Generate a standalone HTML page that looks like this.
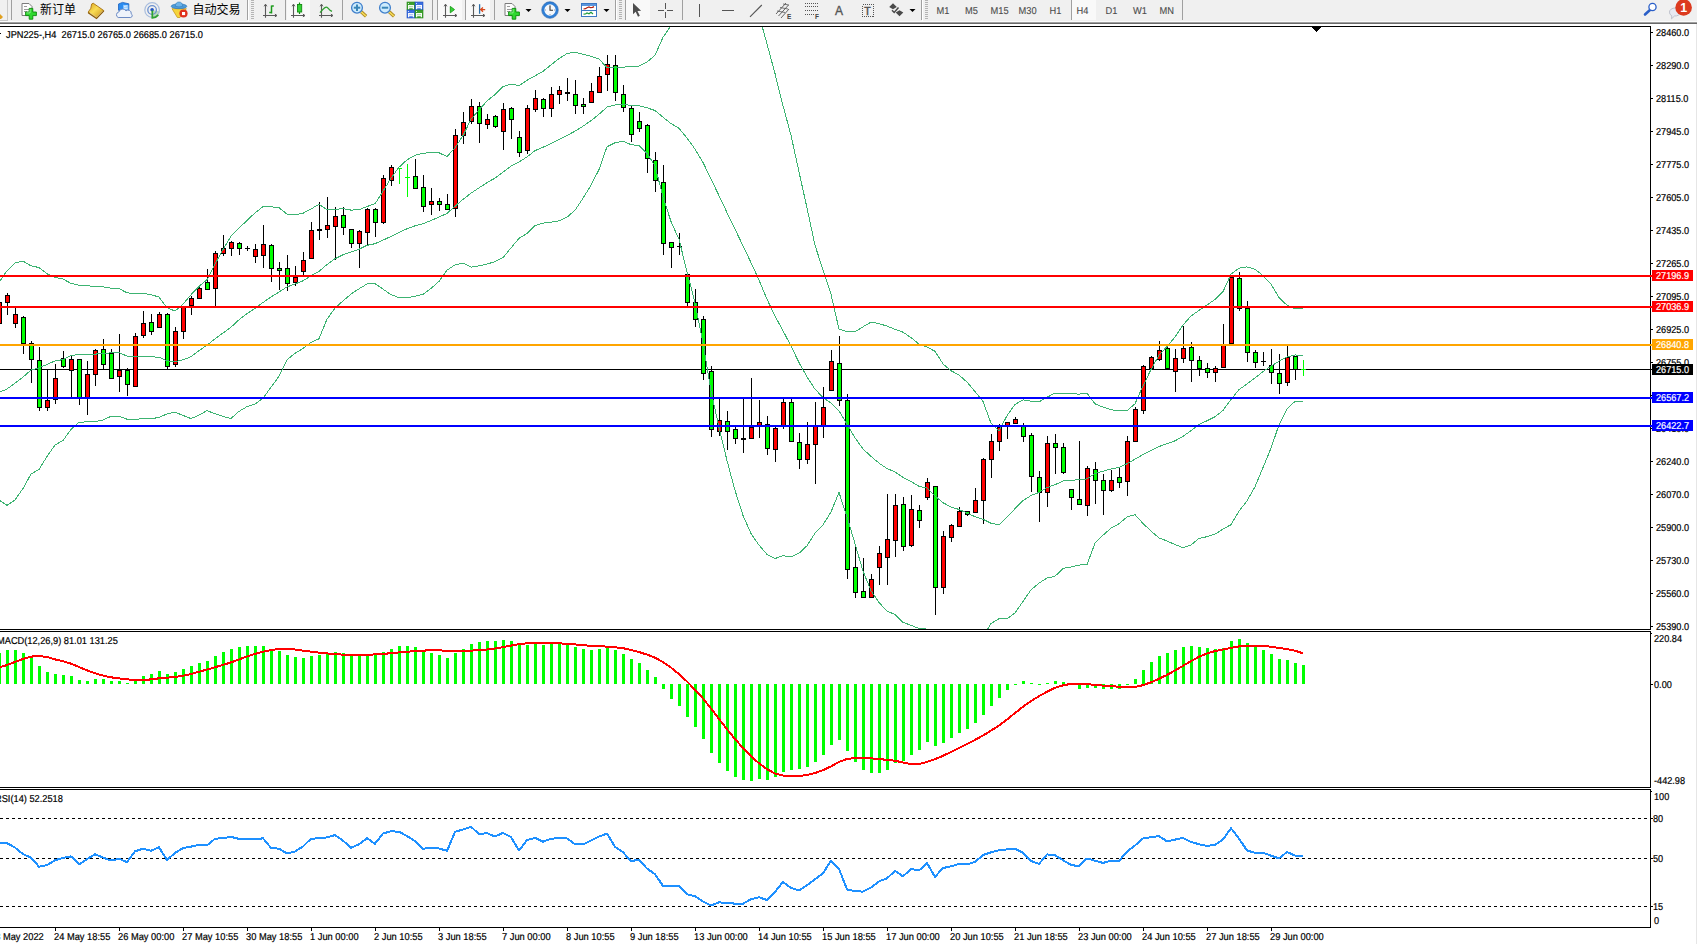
<!DOCTYPE html>
<html><head><meta charset="utf-8"><title>JPN225 H4</title>
<style>
html,body{margin:0;padding:0;background:#fff;}
body{width:1697px;height:944px;overflow:hidden;position:relative;font-family:"Liberation Sans","Noto Sans CJK SC",sans-serif;}
svg{position:absolute;left:0;top:0;}
.ax{font-size:10px;text-rendering:geometricPrecision;fill:#000;white-space:pre;stroke:#000;stroke-width:.2px;}
.axw{font-size:10px;text-rendering:geometricPrecision;fill:#fff;white-space:pre;stroke:#fff;stroke-width:.2px;}
.tl{font-size:10px;text-rendering:geometricPrecision;fill:#000;white-space:pre;stroke:#000;stroke-width:.2px;}
.cj{font-family:"Liberation Sans","Noto Sans CJK SC",sans-serif;font-size:12px;fill:#000;}
.tf{font-size:10px;text-rendering:geometricPrecision;fill:#4a4a4a;stroke:#4a4a4a;stroke-width:.1px;}
</style></head><body>
<svg width="1697" height="944" viewBox="0 0 1697 944">

<g shape-rendering="crispEdges">
<rect x="0" y="0" width="1697" height="21" fill="#f0f0f0"/>
<rect x="0" y="21" width="1697" height="1" fill="#fbfbfb"/>
<rect x="0" y="22" width="1697" height="1" fill="#a0a0a0"/>
<rect x="0" y="23" width="1697" height="1" fill="#696969"/>
<rect x="1696" y="24" width="1" height="920" fill="#e6e6e6"/>
<rect x="0" y="26" width="1651" height="1" fill="#000"/>
<rect x="1650" y="26" width="1" height="604" fill="#000"/>
<rect x="1650" y="631" width="1" height="157" fill="#000"/>
<rect x="1650" y="789" width="1" height="139" fill="#000"/>
<rect x="0" y="629" width="1651" height="1" fill="#000"/>
<rect x="0" y="631" width="1651" height="1" fill="#000"/>
<rect x="0" y="787" width="1651" height="1" fill="#000"/>
<rect x="0" y="789" width="1651" height="1" fill="#000"/>
<rect x="0" y="927" width="1651" height="1" fill="#000"/>
</g>
<g shape-rendering="crispEdges">
<rect x="0" y="369" width="1652" height="1" fill="#000"/>
<rect x="-1" y="296" width="1" height="30" fill="#000"/>
<rect x="-3" y="302" width="5" height="22" fill="#000"/>
<rect x="-2" y="303" width="3" height="20" fill="#ff0000"/>
<rect x="7" y="293" width="1" height="22" fill="#000"/>
<rect x="5" y="295" width="5" height="8" fill="#000"/>
<rect x="6" y="296" width="3" height="6" fill="#ff0000"/>
<rect x="15" y="306" width="1" height="22" fill="#000"/>
<rect x="13" y="314" width="5" height="10" fill="#000"/>
<rect x="14" y="315" width="3" height="8" fill="#ff0000"/>
<rect x="23" y="316" width="1" height="38" fill="#000"/>
<rect x="21" y="317" width="5" height="27" fill="#000"/>
<rect x="22" y="318" width="3" height="25" fill="#00ff00"/>
<rect x="31" y="341" width="1" height="42" fill="#000"/>
<rect x="29" y="343" width="5" height="17" fill="#000"/>
<rect x="30" y="344" width="3" height="15" fill="#00ff00"/>
<rect x="39" y="347" width="1" height="64" fill="#000"/>
<rect x="37" y="360" width="5" height="48" fill="#000"/>
<rect x="38" y="361" width="3" height="46" fill="#00ff00"/>
<rect x="47" y="370" width="1" height="41" fill="#000"/>
<rect x="45" y="400" width="5" height="8" fill="#000"/>
<rect x="46" y="401" width="3" height="6" fill="#ff0000"/>
<rect x="55" y="364" width="1" height="40" fill="#000"/>
<rect x="53" y="378" width="5" height="22" fill="#000"/>
<rect x="54" y="379" width="3" height="20" fill="#ff0000"/>
<rect x="63" y="351" width="1" height="17" fill="#000"/>
<rect x="61" y="358" width="5" height="9" fill="#000"/>
<rect x="62" y="359" width="3" height="7" fill="#00ff00"/>
<rect x="71" y="356" width="1" height="41" fill="#000"/>
<rect x="69" y="359" width="5" height="12" fill="#000"/>
<rect x="70" y="360" width="3" height="10" fill="#ff0000"/>
<rect x="79" y="359" width="1" height="46" fill="#000"/>
<rect x="77" y="359" width="5" height="39" fill="#000"/>
<rect x="78" y="360" width="3" height="37" fill="#00ff00"/>
<rect x="87" y="361" width="1" height="54" fill="#000"/>
<rect x="85" y="374" width="5" height="24" fill="#000"/>
<rect x="86" y="375" width="3" height="22" fill="#ff0000"/>
<rect x="95" y="349" width="1" height="37" fill="#000"/>
<rect x="93" y="350" width="5" height="25" fill="#000"/>
<rect x="94" y="351" width="3" height="23" fill="#ff0000"/>
<rect x="103" y="339" width="1" height="31" fill="#000"/>
<rect x="101" y="349" width="5" height="16" fill="#000"/>
<rect x="102" y="350" width="3" height="14" fill="#00ff00"/>
<rect x="111" y="349" width="1" height="29" fill="#000"/>
<rect x="109" y="353" width="5" height="26" fill="#000"/>
<rect x="110" y="354" width="3" height="24" fill="#00ff00"/>
<rect x="119" y="334" width="1" height="58" fill="#000"/>
<rect x="117" y="370" width="5" height="7" fill="#000"/>
<rect x="118" y="371" width="3" height="5" fill="#ff0000"/>
<rect x="127" y="368" width="1" height="28" fill="#000"/>
<rect x="125" y="370" width="5" height="15" fill="#000"/>
<rect x="126" y="371" width="3" height="13" fill="#00ff00"/>
<rect x="135" y="333" width="1" height="53" fill="#000"/>
<rect x="133" y="336" width="5" height="51" fill="#000"/>
<rect x="134" y="337" width="3" height="49" fill="#ff0000"/>
<rect x="143" y="311" width="1" height="27" fill="#000"/>
<rect x="141" y="323" width="5" height="13" fill="#000"/>
<rect x="142" y="324" width="3" height="11" fill="#ff0000"/>
<rect x="151" y="314" width="1" height="21" fill="#000"/>
<rect x="149" y="322" width="5" height="10" fill="#000"/>
<rect x="150" y="323" width="3" height="8" fill="#00ff00"/>
<rect x="159" y="312" width="1" height="15" fill="#000"/>
<rect x="157" y="314" width="5" height="14" fill="#000"/>
<rect x="158" y="315" width="3" height="12" fill="#ff0000"/>
<rect x="167" y="313" width="1" height="56" fill="#000"/>
<rect x="165" y="314" width="5" height="53" fill="#000"/>
<rect x="166" y="315" width="3" height="51" fill="#00ff00"/>
<rect x="175" y="327" width="1" height="40" fill="#000"/>
<rect x="173" y="331" width="5" height="34" fill="#000"/>
<rect x="174" y="332" width="3" height="32" fill="#ff0000"/>
<rect x="183" y="306" width="1" height="33" fill="#000"/>
<rect x="181" y="306" width="5" height="26" fill="#000"/>
<rect x="182" y="307" width="3" height="24" fill="#ff0000"/>
<rect x="191" y="296" width="1" height="19" fill="#000"/>
<rect x="189" y="298" width="5" height="8" fill="#000"/>
<rect x="190" y="299" width="3" height="6" fill="#ff0000"/>
<rect x="199" y="286" width="1" height="12" fill="#000"/>
<rect x="197" y="288" width="5" height="11" fill="#000"/>
<rect x="198" y="289" width="3" height="9" fill="#ff0000"/>
<rect x="207" y="269" width="1" height="21" fill="#000"/>
<rect x="205" y="282" width="5" height="8" fill="#000"/>
<rect x="206" y="283" width="3" height="6" fill="#00ff00"/>
<rect x="215" y="251" width="1" height="55" fill="#000"/>
<rect x="213" y="253" width="5" height="36" fill="#000"/>
<rect x="214" y="254" width="3" height="34" fill="#ff0000"/>
<rect x="223" y="235" width="1" height="21" fill="#000"/>
<rect x="221" y="248" width="5" height="6" fill="#000"/>
<rect x="222" y="249" width="3" height="4" fill="#ff0000"/>
<rect x="231" y="241" width="1" height="15" fill="#000"/>
<rect x="229" y="242" width="5" height="7" fill="#000"/>
<rect x="230" y="243" width="3" height="5" fill="#ff0000"/>
<rect x="239" y="242" width="1" height="13" fill="#000"/>
<rect x="237" y="243" width="5" height="6" fill="#000"/>
<rect x="238" y="244" width="3" height="4" fill="#00ff00"/>
<rect x="247" y="246" width="1" height="5" fill="#000"/>
<rect x="245" y="248" width="5" height="1" fill="#000"/>
<rect x="255" y="244" width="1" height="19" fill="#000"/>
<rect x="253" y="249" width="5" height="8" fill="#000"/>
<rect x="254" y="250" width="3" height="6" fill="#ff0000"/>
<rect x="263" y="225" width="1" height="43" fill="#000"/>
<rect x="261" y="244" width="5" height="12" fill="#000"/>
<rect x="262" y="245" width="3" height="10" fill="#ff0000"/>
<rect x="271" y="244" width="1" height="38" fill="#000"/>
<rect x="269" y="245" width="5" height="24" fill="#000"/>
<rect x="270" y="246" width="3" height="22" fill="#00ff00"/>
<rect x="279" y="262" width="1" height="28" fill="#000"/>
<rect x="277" y="268" width="5" height="3" fill="#000"/>
<rect x="278" y="269" width="3" height="1" fill="#00ff00"/>
<rect x="287" y="255" width="1" height="36" fill="#000"/>
<rect x="285" y="268" width="5" height="16" fill="#000"/>
<rect x="286" y="269" width="3" height="14" fill="#00ff00"/>
<rect x="295" y="266" width="1" height="20" fill="#000"/>
<rect x="293" y="277" width="5" height="6" fill="#000"/>
<rect x="294" y="278" width="3" height="4" fill="#ff0000"/>
<rect x="303" y="252" width="1" height="23" fill="#000"/>
<rect x="301" y="260" width="5" height="12" fill="#000"/>
<rect x="302" y="261" width="3" height="10" fill="#ff0000"/>
<rect x="311" y="222" width="1" height="36" fill="#000"/>
<rect x="309" y="230" width="5" height="29" fill="#000"/>
<rect x="310" y="231" width="3" height="27" fill="#ff0000"/>
<rect x="319" y="202" width="1" height="38" fill="#000"/>
<rect x="317" y="229" width="5" height="2" fill="#000"/>
<rect x="327" y="197" width="1" height="41" fill="#000"/>
<rect x="325" y="225" width="5" height="5" fill="#000"/>
<rect x="326" y="226" width="3" height="3" fill="#ff0000"/>
<rect x="335" y="207" width="1" height="53" fill="#000"/>
<rect x="333" y="216" width="5" height="11" fill="#000"/>
<rect x="334" y="217" width="3" height="9" fill="#ff0000"/>
<rect x="343" y="207" width="1" height="28" fill="#000"/>
<rect x="341" y="215" width="5" height="13" fill="#000"/>
<rect x="342" y="216" width="3" height="11" fill="#00ff00"/>
<rect x="351" y="229" width="1" height="19" fill="#000"/>
<rect x="349" y="229" width="5" height="15" fill="#000"/>
<rect x="350" y="230" width="3" height="13" fill="#00ff00"/>
<rect x="359" y="230" width="1" height="38" fill="#000"/>
<rect x="357" y="231" width="5" height="13" fill="#000"/>
<rect x="358" y="232" width="3" height="11" fill="#ff0000"/>
<rect x="367" y="208" width="1" height="37" fill="#000"/>
<rect x="365" y="209" width="5" height="24" fill="#000"/>
<rect x="366" y="210" width="3" height="22" fill="#ff0000"/>
<rect x="375" y="208" width="1" height="29" fill="#000"/>
<rect x="373" y="209" width="5" height="14" fill="#000"/>
<rect x="374" y="210" width="3" height="12" fill="#00ff00"/>
<rect x="383" y="175" width="1" height="49" fill="#000"/>
<rect x="381" y="178" width="5" height="45" fill="#000"/>
<rect x="382" y="179" width="3" height="43" fill="#ff0000"/>
<rect x="391" y="165" width="1" height="21" fill="#000"/>
<rect x="389" y="167" width="5" height="14" fill="#000"/>
<rect x="390" y="168" width="3" height="12" fill="#ff0000"/>
<rect x="399" y="168" width="1" height="16" fill="#00ff00"/>
<rect x="397" y="168" width="5" height="1" fill="#00ff00"/>
<rect x="407" y="164" width="1" height="33" fill="#00ff00"/>
<rect x="405" y="177" width="5" height="1" fill="#00ff00"/>
<rect x="415" y="159" width="1" height="30" fill="#000"/>
<rect x="413" y="176" width="5" height="13" fill="#000"/>
<rect x="414" y="177" width="3" height="11" fill="#00ff00"/>
<rect x="423" y="175" width="1" height="37" fill="#000"/>
<rect x="421" y="187" width="5" height="20" fill="#000"/>
<rect x="422" y="188" width="3" height="18" fill="#00ff00"/>
<rect x="431" y="188" width="1" height="27" fill="#000"/>
<rect x="429" y="201" width="5" height="4" fill="#000"/>
<rect x="430" y="202" width="3" height="2" fill="#ff0000"/>
<rect x="439" y="198" width="1" height="13" fill="#000"/>
<rect x="437" y="201" width="5" height="4" fill="#000"/>
<rect x="438" y="202" width="3" height="2" fill="#00ff00"/>
<rect x="447" y="194" width="1" height="15" fill="#000"/>
<rect x="445" y="204" width="5" height="6" fill="#000"/>
<rect x="446" y="205" width="3" height="4" fill="#00ff00"/>
<rect x="455" y="129" width="1" height="88" fill="#000"/>
<rect x="453" y="135" width="5" height="74" fill="#000"/>
<rect x="454" y="136" width="3" height="72" fill="#ff0000"/>
<rect x="463" y="112" width="1" height="32" fill="#000"/>
<rect x="461" y="122" width="5" height="14" fill="#000"/>
<rect x="462" y="123" width="3" height="12" fill="#ff0000"/>
<rect x="471" y="99" width="1" height="25" fill="#000"/>
<rect x="469" y="106" width="5" height="16" fill="#000"/>
<rect x="470" y="107" width="3" height="14" fill="#ff0000"/>
<rect x="479" y="102" width="1" height="41" fill="#000"/>
<rect x="477" y="106" width="5" height="18" fill="#000"/>
<rect x="478" y="107" width="3" height="16" fill="#00ff00"/>
<rect x="487" y="114" width="1" height="15" fill="#000"/>
<rect x="485" y="119" width="5" height="6" fill="#000"/>
<rect x="486" y="120" width="3" height="4" fill="#ff0000"/>
<rect x="495" y="115" width="1" height="13" fill="#000"/>
<rect x="493" y="116" width="5" height="11" fill="#000"/>
<rect x="494" y="117" width="3" height="9" fill="#00ff00"/>
<rect x="503" y="103" width="1" height="47" fill="#000"/>
<rect x="501" y="109" width="5" height="23" fill="#000"/>
<rect x="502" y="110" width="3" height="21" fill="#ff0000"/>
<rect x="511" y="107" width="1" height="32" fill="#000"/>
<rect x="509" y="108" width="5" height="12" fill="#000"/>
<rect x="510" y="109" width="3" height="10" fill="#00ff00"/>
<rect x="519" y="131" width="1" height="26" fill="#000"/>
<rect x="517" y="137" width="5" height="16" fill="#000"/>
<rect x="518" y="138" width="3" height="14" fill="#00ff00"/>
<rect x="527" y="105" width="1" height="49" fill="#000"/>
<rect x="525" y="108" width="5" height="43" fill="#000"/>
<rect x="526" y="109" width="3" height="41" fill="#ff0000"/>
<rect x="535" y="90" width="1" height="22" fill="#000"/>
<rect x="533" y="98" width="5" height="12" fill="#000"/>
<rect x="534" y="99" width="3" height="10" fill="#ff0000"/>
<rect x="543" y="98" width="1" height="19" fill="#000"/>
<rect x="541" y="99" width="5" height="10" fill="#000"/>
<rect x="542" y="100" width="3" height="8" fill="#00ff00"/>
<rect x="551" y="87" width="1" height="30" fill="#000"/>
<rect x="549" y="94" width="5" height="15" fill="#000"/>
<rect x="550" y="95" width="3" height="13" fill="#ff0000"/>
<rect x="559" y="86" width="1" height="18" fill="#000"/>
<rect x="557" y="90" width="5" height="5" fill="#000"/>
<rect x="558" y="91" width="3" height="3" fill="#ff0000"/>
<rect x="567" y="78" width="1" height="23" fill="#000"/>
<rect x="565" y="92" width="5" height="2" fill="#000"/>
<rect x="575" y="80" width="1" height="34" fill="#000"/>
<rect x="573" y="94" width="5" height="12" fill="#000"/>
<rect x="574" y="95" width="3" height="10" fill="#00ff00"/>
<rect x="583" y="98" width="1" height="16" fill="#000"/>
<rect x="581" y="104" width="5" height="3" fill="#000"/>
<rect x="582" y="105" width="3" height="1" fill="#00ff00"/>
<rect x="591" y="83" width="1" height="20" fill="#000"/>
<rect x="589" y="91" width="5" height="12" fill="#000"/>
<rect x="590" y="92" width="3" height="10" fill="#ff0000"/>
<rect x="599" y="67" width="1" height="26" fill="#000"/>
<rect x="597" y="76" width="5" height="17" fill="#000"/>
<rect x="598" y="77" width="3" height="15" fill="#ff0000"/>
<rect x="607" y="55" width="1" height="36" fill="#000"/>
<rect x="605" y="64" width="5" height="11" fill="#000"/>
<rect x="606" y="65" width="3" height="9" fill="#ff0000"/>
<rect x="615" y="55" width="1" height="46" fill="#000"/>
<rect x="613" y="65" width="5" height="28" fill="#000"/>
<rect x="614" y="66" width="3" height="26" fill="#00ff00"/>
<rect x="623" y="85" width="1" height="27" fill="#000"/>
<rect x="621" y="94" width="5" height="14" fill="#000"/>
<rect x="622" y="95" width="3" height="12" fill="#00ff00"/>
<rect x="631" y="106" width="1" height="36" fill="#000"/>
<rect x="629" y="108" width="5" height="27" fill="#000"/>
<rect x="630" y="109" width="3" height="25" fill="#00ff00"/>
<rect x="639" y="112" width="1" height="20" fill="#000"/>
<rect x="637" y="121" width="5" height="8" fill="#000"/>
<rect x="638" y="122" width="3" height="6" fill="#00ff00"/>
<rect x="647" y="124" width="1" height="49" fill="#000"/>
<rect x="645" y="125" width="5" height="34" fill="#000"/>
<rect x="646" y="126" width="3" height="32" fill="#00ff00"/>
<rect x="655" y="152" width="1" height="40" fill="#000"/>
<rect x="653" y="160" width="5" height="21" fill="#000"/>
<rect x="654" y="161" width="3" height="19" fill="#00ff00"/>
<rect x="663" y="165" width="1" height="90" fill="#000"/>
<rect x="661" y="182" width="5" height="62" fill="#000"/>
<rect x="662" y="183" width="3" height="60" fill="#00ff00"/>
<rect x="671" y="242" width="1" height="26" fill="#000"/>
<rect x="669" y="242" width="5" height="6" fill="#000"/>
<rect x="670" y="243" width="3" height="4" fill="#00ff00"/>
<rect x="679" y="233" width="1" height="22" fill="#000"/>
<rect x="677" y="246" width="5" height="1" fill="#000"/>
<rect x="687" y="274" width="1" height="32" fill="#000"/>
<rect x="685" y="274" width="5" height="29" fill="#000"/>
<rect x="686" y="275" width="3" height="27" fill="#00ff00"/>
<rect x="695" y="289" width="1" height="38" fill="#000"/>
<rect x="693" y="302" width="5" height="18" fill="#000"/>
<rect x="694" y="303" width="3" height="16" fill="#00ff00"/>
<rect x="703" y="316" width="1" height="64" fill="#000"/>
<rect x="701" y="319" width="5" height="55" fill="#000"/>
<rect x="702" y="320" width="3" height="53" fill="#00ff00"/>
<rect x="711" y="366" width="1" height="71" fill="#000"/>
<rect x="709" y="371" width="5" height="59" fill="#000"/>
<rect x="710" y="372" width="3" height="57" fill="#00ff00"/>
<rect x="719" y="399" width="1" height="37" fill="#000"/>
<rect x="717" y="420" width="5" height="12" fill="#000"/>
<rect x="718" y="421" width="3" height="10" fill="#ff0000"/>
<rect x="727" y="411" width="1" height="39" fill="#000"/>
<rect x="725" y="421" width="5" height="11" fill="#000"/>
<rect x="726" y="422" width="3" height="9" fill="#00ff00"/>
<rect x="735" y="427" width="1" height="17" fill="#000"/>
<rect x="733" y="429" width="5" height="10" fill="#000"/>
<rect x="734" y="430" width="3" height="8" fill="#00ff00"/>
<rect x="743" y="399" width="1" height="54" fill="#000"/>
<rect x="741" y="438" width="5" height="2" fill="#000"/>
<rect x="751" y="378" width="1" height="60" fill="#000"/>
<rect x="749" y="427" width="5" height="12" fill="#000"/>
<rect x="750" y="428" width="3" height="10" fill="#ff0000"/>
<rect x="759" y="400" width="1" height="38" fill="#000"/>
<rect x="757" y="422" width="5" height="5" fill="#000"/>
<rect x="758" y="423" width="3" height="3" fill="#ff0000"/>
<rect x="767" y="416" width="1" height="39" fill="#000"/>
<rect x="765" y="424" width="5" height="25" fill="#000"/>
<rect x="766" y="425" width="3" height="23" fill="#00ff00"/>
<rect x="775" y="427" width="1" height="35" fill="#000"/>
<rect x="773" y="428" width="5" height="22" fill="#000"/>
<rect x="774" y="429" width="3" height="20" fill="#ff0000"/>
<rect x="783" y="399" width="1" height="30" fill="#000"/>
<rect x="781" y="402" width="5" height="25" fill="#000"/>
<rect x="782" y="403" width="3" height="23" fill="#ff0000"/>
<rect x="791" y="399" width="1" height="43" fill="#000"/>
<rect x="789" y="402" width="5" height="40" fill="#000"/>
<rect x="790" y="403" width="3" height="38" fill="#00ff00"/>
<rect x="799" y="433" width="1" height="36" fill="#000"/>
<rect x="797" y="442" width="5" height="18" fill="#000"/>
<rect x="798" y="443" width="3" height="16" fill="#00ff00"/>
<rect x="807" y="422" width="1" height="42" fill="#000"/>
<rect x="805" y="444" width="5" height="16" fill="#000"/>
<rect x="806" y="445" width="3" height="14" fill="#ff0000"/>
<rect x="815" y="402" width="1" height="82" fill="#000"/>
<rect x="813" y="426" width="5" height="19" fill="#000"/>
<rect x="814" y="427" width="3" height="17" fill="#ff0000"/>
<rect x="823" y="387" width="1" height="51" fill="#000"/>
<rect x="821" y="407" width="5" height="19" fill="#000"/>
<rect x="822" y="408" width="3" height="17" fill="#ff0000"/>
<rect x="831" y="350" width="1" height="40" fill="#000"/>
<rect x="829" y="361" width="5" height="30" fill="#000"/>
<rect x="830" y="362" width="3" height="28" fill="#ff0000"/>
<rect x="839" y="336" width="1" height="70" fill="#000"/>
<rect x="837" y="363" width="5" height="38" fill="#000"/>
<rect x="838" y="364" width="3" height="36" fill="#00ff00"/>
<rect x="847" y="394" width="1" height="185" fill="#000"/>
<rect x="845" y="400" width="5" height="170" fill="#000"/>
<rect x="846" y="401" width="3" height="168" fill="#00ff00"/>
<rect x="855" y="546" width="1" height="52" fill="#000"/>
<rect x="853" y="567" width="5" height="26" fill="#000"/>
<rect x="854" y="568" width="3" height="24" fill="#00ff00"/>
<rect x="863" y="558" width="1" height="39" fill="#000"/>
<rect x="861" y="591" width="5" height="7" fill="#000"/>
<rect x="862" y="592" width="3" height="5" fill="#00ff00"/>
<rect x="871" y="574" width="1" height="24" fill="#000"/>
<rect x="869" y="579" width="5" height="19" fill="#000"/>
<rect x="870" y="580" width="3" height="17" fill="#ff0000"/>
<rect x="879" y="546" width="1" height="39" fill="#000"/>
<rect x="877" y="553" width="5" height="15" fill="#000"/>
<rect x="878" y="554" width="3" height="13" fill="#ff0000"/>
<rect x="887" y="494" width="1" height="91" fill="#000"/>
<rect x="885" y="539" width="5" height="19" fill="#000"/>
<rect x="886" y="540" width="3" height="17" fill="#ff0000"/>
<rect x="895" y="494" width="1" height="63" fill="#000"/>
<rect x="893" y="505" width="5" height="36" fill="#000"/>
<rect x="894" y="506" width="3" height="34" fill="#ff0000"/>
<rect x="903" y="497" width="1" height="54" fill="#000"/>
<rect x="901" y="504" width="5" height="43" fill="#000"/>
<rect x="902" y="505" width="3" height="41" fill="#00ff00"/>
<rect x="911" y="495" width="1" height="52" fill="#000"/>
<rect x="909" y="509" width="5" height="37" fill="#000"/>
<rect x="910" y="510" width="3" height="35" fill="#ff0000"/>
<rect x="919" y="505" width="1" height="23" fill="#000"/>
<rect x="917" y="510" width="5" height="11" fill="#000"/>
<rect x="918" y="511" width="3" height="9" fill="#00ff00"/>
<rect x="927" y="478" width="1" height="22" fill="#000"/>
<rect x="925" y="482" width="5" height="16" fill="#000"/>
<rect x="926" y="483" width="3" height="14" fill="#ff0000"/>
<rect x="935" y="486" width="1" height="129" fill="#000"/>
<rect x="933" y="486" width="5" height="102" fill="#000"/>
<rect x="934" y="487" width="3" height="100" fill="#00ff00"/>
<rect x="943" y="531" width="1" height="63" fill="#000"/>
<rect x="941" y="536" width="5" height="52" fill="#000"/>
<rect x="942" y="537" width="3" height="50" fill="#ff0000"/>
<rect x="951" y="524" width="1" height="18" fill="#000"/>
<rect x="949" y="525" width="5" height="13" fill="#000"/>
<rect x="950" y="526" width="3" height="11" fill="#ff0000"/>
<rect x="959" y="507" width="1" height="19" fill="#000"/>
<rect x="957" y="511" width="5" height="16" fill="#000"/>
<rect x="958" y="512" width="3" height="14" fill="#ff0000"/>
<rect x="967" y="511" width="1" height="5" fill="#000"/>
<rect x="965" y="511" width="5" height="4" fill="#000"/>
<rect x="966" y="512" width="3" height="2" fill="#00ff00"/>
<rect x="975" y="488" width="1" height="24" fill="#000"/>
<rect x="973" y="500" width="5" height="13" fill="#000"/>
<rect x="974" y="501" width="3" height="11" fill="#ff0000"/>
<rect x="983" y="458" width="1" height="66" fill="#000"/>
<rect x="981" y="459" width="5" height="42" fill="#000"/>
<rect x="982" y="460" width="3" height="40" fill="#ff0000"/>
<rect x="991" y="434" width="1" height="44" fill="#000"/>
<rect x="989" y="441" width="5" height="19" fill="#000"/>
<rect x="990" y="442" width="3" height="17" fill="#ff0000"/>
<rect x="999" y="424" width="1" height="27" fill="#000"/>
<rect x="997" y="427" width="5" height="15" fill="#000"/>
<rect x="998" y="428" width="3" height="13" fill="#ff0000"/>
<rect x="1007" y="422" width="1" height="17" fill="#000"/>
<rect x="1005" y="422" width="5" height="5" fill="#000"/>
<rect x="1006" y="423" width="3" height="3" fill="#ff0000"/>
<rect x="1015" y="417" width="1" height="7" fill="#000"/>
<rect x="1013" y="419" width="5" height="5" fill="#000"/>
<rect x="1014" y="420" width="3" height="3" fill="#ff0000"/>
<rect x="1023" y="423" width="1" height="19" fill="#000"/>
<rect x="1021" y="426" width="5" height="11" fill="#000"/>
<rect x="1022" y="427" width="3" height="9" fill="#00ff00"/>
<rect x="1031" y="433" width="1" height="59" fill="#000"/>
<rect x="1029" y="435" width="5" height="42" fill="#000"/>
<rect x="1030" y="436" width="3" height="40" fill="#00ff00"/>
<rect x="1039" y="471" width="1" height="51" fill="#000"/>
<rect x="1037" y="477" width="5" height="16" fill="#000"/>
<rect x="1038" y="478" width="3" height="14" fill="#00ff00"/>
<rect x="1047" y="436" width="1" height="71" fill="#000"/>
<rect x="1045" y="443" width="5" height="50" fill="#000"/>
<rect x="1046" y="444" width="3" height="48" fill="#ff0000"/>
<rect x="1055" y="434" width="1" height="40" fill="#000"/>
<rect x="1053" y="443" width="5" height="5" fill="#000"/>
<rect x="1054" y="444" width="3" height="3" fill="#00ff00"/>
<rect x="1063" y="443" width="1" height="31" fill="#000"/>
<rect x="1061" y="447" width="5" height="26" fill="#000"/>
<rect x="1062" y="448" width="3" height="24" fill="#00ff00"/>
<rect x="1071" y="489" width="1" height="21" fill="#000"/>
<rect x="1069" y="489" width="5" height="9" fill="#000"/>
<rect x="1070" y="490" width="3" height="7" fill="#00ff00"/>
<rect x="1079" y="441" width="1" height="64" fill="#000"/>
<rect x="1077" y="499" width="5" height="6" fill="#000"/>
<rect x="1078" y="500" width="3" height="4" fill="#00ff00"/>
<rect x="1087" y="466" width="1" height="50" fill="#000"/>
<rect x="1085" y="468" width="5" height="38" fill="#000"/>
<rect x="1086" y="469" width="3" height="36" fill="#ff0000"/>
<rect x="1095" y="462" width="1" height="42" fill="#000"/>
<rect x="1093" y="469" width="5" height="12" fill="#000"/>
<rect x="1094" y="470" width="3" height="10" fill="#00ff00"/>
<rect x="1103" y="474" width="1" height="41" fill="#000"/>
<rect x="1101" y="480" width="5" height="11" fill="#000"/>
<rect x="1102" y="481" width="3" height="9" fill="#00ff00"/>
<rect x="1111" y="470" width="1" height="22" fill="#000"/>
<rect x="1109" y="480" width="5" height="11" fill="#000"/>
<rect x="1110" y="481" width="3" height="9" fill="#ff0000"/>
<rect x="1119" y="468" width="1" height="20" fill="#000"/>
<rect x="1117" y="477" width="5" height="6" fill="#000"/>
<rect x="1118" y="478" width="3" height="4" fill="#00ff00"/>
<rect x="1127" y="436" width="1" height="60" fill="#000"/>
<rect x="1125" y="441" width="5" height="41" fill="#000"/>
<rect x="1126" y="442" width="3" height="39" fill="#ff0000"/>
<rect x="1135" y="407" width="1" height="34" fill="#000"/>
<rect x="1133" y="409" width="5" height="33" fill="#000"/>
<rect x="1134" y="410" width="3" height="31" fill="#ff0000"/>
<rect x="1143" y="365" width="1" height="49" fill="#000"/>
<rect x="1141" y="366" width="5" height="45" fill="#000"/>
<rect x="1142" y="367" width="3" height="43" fill="#ff0000"/>
<rect x="1151" y="356" width="1" height="12" fill="#000"/>
<rect x="1149" y="357" width="5" height="12" fill="#000"/>
<rect x="1150" y="358" width="3" height="10" fill="#ff0000"/>
<rect x="1159" y="341" width="1" height="20" fill="#000"/>
<rect x="1157" y="350" width="5" height="10" fill="#000"/>
<rect x="1158" y="351" width="3" height="8" fill="#ff0000"/>
<rect x="1167" y="346" width="1" height="23" fill="#000"/>
<rect x="1165" y="348" width="5" height="21" fill="#000"/>
<rect x="1166" y="349" width="3" height="19" fill="#00ff00"/>
<rect x="1175" y="349" width="1" height="43" fill="#000"/>
<rect x="1173" y="358" width="5" height="14" fill="#000"/>
<rect x="1174" y="359" width="3" height="12" fill="#ff0000"/>
<rect x="1183" y="326" width="1" height="37" fill="#000"/>
<rect x="1181" y="348" width="5" height="11" fill="#000"/>
<rect x="1182" y="349" width="3" height="9" fill="#ff0000"/>
<rect x="1191" y="342" width="1" height="40" fill="#000"/>
<rect x="1189" y="347" width="5" height="14" fill="#000"/>
<rect x="1190" y="348" width="3" height="12" fill="#00ff00"/>
<rect x="1199" y="356" width="1" height="20" fill="#000"/>
<rect x="1197" y="360" width="5" height="9" fill="#000"/>
<rect x="1198" y="361" width="3" height="7" fill="#00ff00"/>
<rect x="1207" y="363" width="1" height="15" fill="#000"/>
<rect x="1205" y="368" width="5" height="5" fill="#000"/>
<rect x="1206" y="369" width="3" height="3" fill="#00ff00"/>
<rect x="1215" y="366" width="1" height="16" fill="#000"/>
<rect x="1213" y="368" width="5" height="5" fill="#000"/>
<rect x="1214" y="369" width="3" height="3" fill="#ff0000"/>
<rect x="1223" y="324" width="1" height="44" fill="#000"/>
<rect x="1221" y="344" width="5" height="24" fill="#000"/>
<rect x="1222" y="345" width="3" height="22" fill="#ff0000"/>
<rect x="1231" y="277" width="1" height="67" fill="#000"/>
<rect x="1229" y="277" width="5" height="67" fill="#000"/>
<rect x="1230" y="278" width="3" height="65" fill="#ff0000"/>
<rect x="1239" y="272" width="1" height="39" fill="#000"/>
<rect x="1237" y="278" width="5" height="31" fill="#000"/>
<rect x="1238" y="279" width="3" height="29" fill="#00ff00"/>
<rect x="1247" y="301" width="1" height="61" fill="#000"/>
<rect x="1245" y="308" width="5" height="45" fill="#000"/>
<rect x="1246" y="309" width="3" height="43" fill="#00ff00"/>
<rect x="1255" y="350" width="1" height="18" fill="#000"/>
<rect x="1253" y="352" width="5" height="11" fill="#000"/>
<rect x="1254" y="353" width="3" height="9" fill="#00ff00"/>
<rect x="1263" y="352" width="1" height="14" fill="#000"/>
<rect x="1261" y="361" width="5" height="1" fill="#000"/>
<rect x="1271" y="349" width="1" height="35" fill="#000"/>
<rect x="1269" y="365" width="5" height="8" fill="#000"/>
<rect x="1270" y="366" width="3" height="6" fill="#00ff00"/>
<rect x="1279" y="354" width="1" height="40" fill="#000"/>
<rect x="1277" y="373" width="5" height="11" fill="#000"/>
<rect x="1278" y="374" width="3" height="9" fill="#00ff00"/>
<rect x="1287" y="346" width="1" height="40" fill="#000"/>
<rect x="1285" y="357" width="5" height="26" fill="#000"/>
<rect x="1286" y="358" width="3" height="24" fill="#ff0000"/>
<rect x="1295" y="356" width="1" height="24" fill="#000"/>
<rect x="1293" y="356" width="5" height="14" fill="#000"/>
<rect x="1294" y="357" width="3" height="12" fill="#00ff00"/>
<rect x="1303" y="360" width="1" height="16" fill="#00ff00"/>
<rect x="1301" y="369" width="5" height="1" fill="#00ff00"/>
</g>
<clipPath id="cm"><rect x="0" y="27" width="1650" height="602"/></clipPath>
<g clip-path="url(#cm)">
<polyline points="-1.0,282.5 7.0,270.7 15.0,263.0 23.0,261.1 31.0,265.9 39.0,267.5 47.0,273.8 55.0,277.3 63.0,279.1 71.0,283.4 79.0,285.3 87.0,285.9 95.0,286.2 103.0,286.9 111.0,288.1 119.0,288.4 127.0,292.9 135.0,293.4 143.0,293.4 151.0,294.6 159.0,297.1 167.0,307.7 175.0,311.1 183.0,304.1 191.0,294.7 199.0,286.3 207.0,279.7 215.0,264.0 223.0,249.6 231.0,236.0 239.0,228.2 247.0,220.4 255.0,212.9 263.0,206.7 271.0,206.8 279.0,207.7 287.0,214.1 295.0,214.7 303.0,213.3 311.0,209.0 319.0,204.2 327.0,209.8 335.0,209.4 343.0,208.7 351.0,210.1 359.0,209.7 367.0,206.5 375.0,203.8 383.0,191.3 391.0,178.1 399.0,167.3 407.0,159.9 415.0,155.3 423.0,153.4 431.0,152.5 439.0,152.8 447.0,156.6 455.0,147.8 463.0,135.6 471.0,119.3 479.0,109.9 487.0,101.0 495.0,94.5 503.0,86.7 511.0,84.0 519.0,85.6 527.0,80.3 535.0,75.9 543.0,71.3 551.0,64.9 559.0,58.6 567.0,53.6 575.0,52.2 583.0,54.3 591.0,56.2 599.0,59.1 607.0,67.5 615.0,67.1 623.0,67.2 631.0,66.4 639.0,66.1 647.0,62.1 655.0,55.3 663.0,37.3 671.0,25.8 679.0,17.3 687.0,4.2 695.0,-4.7 703.0,-18.2 711.0,-32.6 719.0,-36.3 727.0,-35.4 735.0,-31.9 743.0,-23.9 751.0,-8.3 759.0,14.8 767.0,44.0 775.0,73.5 783.0,105.6 791.0,135.4 799.0,171.9 807.0,208.0 815.0,245.3 823.0,269.9 831.0,294.3 839.0,329.2 847.0,331.6 855.0,331.8 863.0,326.8 871.0,322.2 879.0,323.6 887.0,326.1 895.0,329.3 903.0,332.2 911.0,337.6 919.0,344.2 927.0,346.9 935.0,351.3 943.0,363.9 951.0,370.7 959.0,375.1 967.0,382.0 975.0,391.6 983.0,401.4 991.0,423.2 999.0,430.7 1007.0,415.7 1015.0,404.4 1023.0,399.9 1031.0,401.1 1039.0,401.8 1047.0,397.3 1055.0,393.1 1063.0,393.7 1071.0,393.7 1079.0,394.1 1087.0,393.3 1095.0,403.8 1103.0,407.1 1111.0,409.6 1119.0,411.0 1127.0,410.6 1135.0,403.8 1143.0,385.8 1151.0,369.6 1159.0,355.1 1167.0,346.6 1175.0,337.0 1183.0,325.0 1191.0,316.1 1199.0,310.4 1207.0,305.0 1215.0,299.4 1223.0,291.7 1231.0,274.2 1239.0,268.1 1247.0,266.9 1255.0,269.3 1263.0,275.6 1271.0,284.1 1279.0,297.7 1287.0,305.2 1295.0,308.6 1303.0,308.6" fill="none" stroke="#3cb371" stroke-width="1" shape-rendering="crispEdges" />
<polyline points="-1.0,392.5 7.0,389.0 15.0,383.1 23.0,377.1 31.0,370.0 39.0,367.9 47.0,364.4 55.0,360.9 63.0,359.6 71.0,355.7 79.0,354.4 87.0,354.4 95.0,354.1 103.0,353.6 111.0,352.8 119.0,352.5 127.0,356.1 135.0,356.5 143.0,356.5 151.0,356.7 159.0,357.3 167.0,360.8 175.0,361.6 183.0,359.8 191.0,356.7 199.0,350.7 207.0,345.1 215.0,338.9 223.0,333.0 231.0,327.2 239.0,319.8 247.0,313.5 255.0,308.5 263.0,302.5 271.0,297.0 279.0,292.0 287.0,286.9 295.0,284.0 303.0,280.8 311.0,275.8 319.0,271.5 327.0,264.5 335.0,258.7 343.0,254.8 351.0,252.1 359.0,249.3 367.0,245.3 375.0,243.7 383.0,240.2 391.0,236.4 399.0,232.4 407.0,228.8 415.0,225.8 423.0,223.8 431.0,220.5 439.0,217.1 447.0,213.4 455.0,206.3 463.0,199.4 471.0,193.2 479.0,187.9 487.0,182.6 495.0,178.1 503.0,172.2 511.0,166.0 519.0,162.0 527.0,156.9 535.0,150.7 543.0,147.2 551.0,143.6 559.0,139.7 567.0,135.4 575.0,131.2 583.0,126.2 591.0,120.7 599.0,114.3 607.0,107.1 615.0,104.9 623.0,104.2 631.0,105.5 639.0,105.8 647.0,107.8 655.0,110.5 663.0,117.2 671.0,123.6 679.0,128.3 687.0,138.0 695.0,149.1 703.0,162.4 711.0,179.1 719.0,195.6 727.0,212.6 735.0,229.2 743.0,245.8 751.0,262.6 759.0,280.0 767.0,299.2 775.0,316.0 783.0,330.7 791.0,346.1 799.0,362.6 807.0,376.9 815.0,389.2 823.0,397.4 831.0,403.1 839.0,410.8 847.0,424.1 855.0,437.8 863.0,449.0 871.0,456.4 879.0,463.1 887.0,468.5 895.0,471.9 903.0,477.3 911.0,481.4 919.0,486.3 927.0,488.0 935.0,496.0 943.0,502.7 951.0,506.9 959.0,509.5 967.0,513.0 975.0,516.7 983.0,519.3 991.0,523.3 999.0,524.7 1007.0,517.3 1015.0,508.7 1023.0,500.7 1031.0,495.5 1039.0,492.4 1047.0,487.6 1055.0,484.7 1063.0,481.0 1071.0,480.4 1079.0,479.6 1087.0,478.9 1095.0,473.5 1103.0,471.2 1111.0,468.9 1119.0,467.4 1127.0,463.8 1135.0,459.2 1143.0,454.6 1151.0,450.4 1159.0,446.5 1167.0,443.8 1175.0,440.8 1183.0,436.4 1191.0,430.6 1199.0,424.4 1207.0,420.8 1215.0,416.8 1223.0,410.4 1231.0,399.4 1239.0,389.7 1247.0,383.9 1255.0,378.0 1263.0,371.6 1271.0,366.2 1279.0,361.2 1287.0,357.0 1295.0,355.0 1303.0,355.2" fill="none" stroke="#3cb371" stroke-width="1" shape-rendering="crispEdges" />
<polyline points="-1.0,500.0 7.0,505.3 15.0,500.0 23.0,488.5 31.0,474.0 39.0,469.5 47.0,456.5 55.0,445.0 63.0,440.5 71.0,429.5 79.0,422.2 87.0,421.9 95.0,421.7 103.0,420.0 111.0,416.3 119.0,416.3 127.0,419.2 135.0,419.2 143.0,418.8 151.0,418.8 159.0,417.4 167.0,413.9 175.0,412.2 183.0,415.4 191.0,418.6 199.0,415.1 207.0,410.6 215.0,413.8 223.0,416.4 231.0,418.4 239.0,411.4 247.0,406.6 255.0,404.0 263.0,398.3 271.0,387.2 279.0,376.3 287.0,359.8 295.0,353.3 303.0,348.4 311.0,342.5 319.0,338.8 327.0,319.2 335.0,308.0 343.0,300.9 351.0,294.1 359.0,288.8 367.0,284.0 375.0,283.6 383.0,289.1 391.0,294.7 399.0,297.6 407.0,297.8 415.0,296.3 423.0,294.3 431.0,288.5 439.0,281.4 447.0,270.2 455.0,264.9 463.0,263.2 471.0,267.1 479.0,265.9 487.0,264.1 495.0,261.6 503.0,257.6 511.0,247.9 519.0,238.4 527.0,233.6 535.0,225.5 543.0,223.1 551.0,222.2 559.0,220.8 567.0,217.2 575.0,210.3 583.0,198.2 591.0,185.3 599.0,169.5 607.0,146.7 615.0,142.8 623.0,141.2 631.0,144.7 639.0,145.6 647.0,153.5 655.0,165.7 663.0,197.2 671.0,221.5 679.0,239.3 687.0,271.8 695.0,302.9 703.0,342.9 711.0,390.8 719.0,427.5 727.0,460.6 735.0,490.4 743.0,515.5 751.0,533.6 759.0,545.1 767.0,554.4 775.0,558.5 783.0,555.8 791.0,556.8 799.0,553.3 807.0,545.8 815.0,533.1 823.0,524.9 831.0,511.9 839.0,492.5 847.0,516.7 855.0,543.7 863.0,571.1 871.0,590.7 879.0,602.6 887.0,611.0 895.0,614.5 903.0,622.4 911.0,625.3 919.0,628.5 927.0,629.1 935.0,640.6 943.0,641.6 951.0,643.1 959.0,643.9 967.0,644.1 975.0,641.8 983.0,637.2 991.0,623.4 999.0,618.7 1007.0,619.0 1015.0,613.0 1023.0,601.4 1031.0,589.9 1039.0,583.1 1047.0,578.0 1055.0,576.3 1063.0,568.4 1071.0,567.1 1079.0,565.1 1087.0,564.5 1095.0,543.2 1103.0,535.2 1111.0,528.2 1119.0,523.8 1127.0,516.9 1135.0,514.7 1143.0,523.4 1151.0,531.1 1159.0,537.9 1167.0,541.0 1175.0,544.5 1183.0,547.8 1191.0,545.1 1199.0,538.4 1207.0,536.7 1215.0,534.2 1223.0,529.1 1231.0,524.7 1239.0,511.2 1247.0,500.9 1255.0,486.7 1263.0,467.6 1271.0,448.2 1279.0,424.7 1287.0,408.8 1295.0,401.4 1303.0,401.8" fill="none" stroke="#3cb371" stroke-width="1" shape-rendering="crispEdges" />
</g>
<g shape-rendering="crispEdges">
<rect x="0" y="275" width="1652" height="2" fill="#ff0000"/>
<rect x="0" y="306" width="1652" height="2" fill="#ff0000"/>
<rect x="0" y="344" width="1652" height="2" fill="#ffa500"/>
<rect x="0" y="397" width="1652" height="2" fill="#0000ff"/>
<rect x="0" y="425" width="1652" height="2" fill="#0000ff"/>
</g>
<g shape-rendering="crispEdges">
<rect x="-2" y="653" width="3" height="31" fill="#00ff00"/>
<rect x="6" y="650" width="3" height="34" fill="#00ff00"/>
<rect x="14" y="650" width="3" height="34" fill="#00ff00"/>
<rect x="22" y="653" width="3" height="31" fill="#00ff00"/>
<rect x="30" y="657" width="3" height="27" fill="#00ff00"/>
<rect x="38" y="666" width="3" height="18" fill="#00ff00"/>
<rect x="46" y="672" width="3" height="12" fill="#00ff00"/>
<rect x="54" y="674" width="3" height="10" fill="#00ff00"/>
<rect x="62" y="675" width="3" height="9" fill="#00ff00"/>
<rect x="70" y="676" width="3" height="8" fill="#00ff00"/>
<rect x="78" y="680" width="3" height="4" fill="#00ff00"/>
<rect x="86" y="681" width="3" height="3" fill="#00ff00"/>
<rect x="94" y="679" width="3" height="5" fill="#00ff00"/>
<rect x="102" y="679" width="3" height="5" fill="#00ff00"/>
<rect x="110" y="681" width="3" height="3" fill="#00ff00"/>
<rect x="118" y="681" width="3" height="3" fill="#00ff00"/>
<rect x="126" y="683" width="3" height="1" fill="#00ff00"/>
<rect x="134" y="680" width="3" height="4" fill="#00ff00"/>
<rect x="142" y="676" width="3" height="8" fill="#00ff00"/>
<rect x="150" y="674" width="3" height="10" fill="#00ff00"/>
<rect x="158" y="671" width="3" height="13" fill="#00ff00"/>
<rect x="166" y="674" width="3" height="10" fill="#00ff00"/>
<rect x="174" y="672" width="3" height="12" fill="#00ff00"/>
<rect x="182" y="669" width="3" height="15" fill="#00ff00"/>
<rect x="190" y="666" width="3" height="18" fill="#00ff00"/>
<rect x="198" y="663" width="3" height="21" fill="#00ff00"/>
<rect x="206" y="661" width="3" height="23" fill="#00ff00"/>
<rect x="214" y="656" width="3" height="28" fill="#00ff00"/>
<rect x="222" y="652" width="3" height="32" fill="#00ff00"/>
<rect x="230" y="649" width="3" height="35" fill="#00ff00"/>
<rect x="238" y="647" width="3" height="37" fill="#00ff00"/>
<rect x="246" y="646" width="3" height="38" fill="#00ff00"/>
<rect x="254" y="646" width="3" height="38" fill="#00ff00"/>
<rect x="262" y="646" width="3" height="38" fill="#00ff00"/>
<rect x="270" y="649" width="3" height="35" fill="#00ff00"/>
<rect x="278" y="651" width="3" height="33" fill="#00ff00"/>
<rect x="286" y="655" width="3" height="29" fill="#00ff00"/>
<rect x="294" y="657" width="3" height="27" fill="#00ff00"/>
<rect x="302" y="658" width="3" height="26" fill="#00ff00"/>
<rect x="310" y="656" width="3" height="28" fill="#00ff00"/>
<rect x="318" y="655" width="3" height="29" fill="#00ff00"/>
<rect x="326" y="654" width="3" height="30" fill="#00ff00"/>
<rect x="334" y="652" width="3" height="32" fill="#00ff00"/>
<rect x="342" y="653" width="3" height="31" fill="#00ff00"/>
<rect x="350" y="655" width="3" height="29" fill="#00ff00"/>
<rect x="358" y="656" width="3" height="28" fill="#00ff00"/>
<rect x="366" y="655" width="3" height="29" fill="#00ff00"/>
<rect x="374" y="655" width="3" height="29" fill="#00ff00"/>
<rect x="382" y="652" width="3" height="32" fill="#00ff00"/>
<rect x="390" y="649" width="3" height="35" fill="#00ff00"/>
<rect x="398" y="646" width="3" height="38" fill="#00ff00"/>
<rect x="406" y="646" width="3" height="38" fill="#00ff00"/>
<rect x="414" y="647" width="3" height="37" fill="#00ff00"/>
<rect x="422" y="650" width="3" height="34" fill="#00ff00"/>
<rect x="430" y="653" width="3" height="31" fill="#00ff00"/>
<rect x="438" y="655" width="3" height="29" fill="#00ff00"/>
<rect x="446" y="658" width="3" height="26" fill="#00ff00"/>
<rect x="454" y="653" width="3" height="31" fill="#00ff00"/>
<rect x="462" y="649" width="3" height="35" fill="#00ff00"/>
<rect x="470" y="644" width="3" height="40" fill="#00ff00"/>
<rect x="478" y="642" width="3" height="42" fill="#00ff00"/>
<rect x="486" y="641" width="3" height="43" fill="#00ff00"/>
<rect x="494" y="641" width="3" height="43" fill="#00ff00"/>
<rect x="502" y="640" width="3" height="44" fill="#00ff00"/>
<rect x="510" y="641" width="3" height="43" fill="#00ff00"/>
<rect x="518" y="645" width="3" height="39" fill="#00ff00"/>
<rect x="526" y="645" width="3" height="39" fill="#00ff00"/>
<rect x="534" y="644" width="3" height="40" fill="#00ff00"/>
<rect x="542" y="645" width="3" height="39" fill="#00ff00"/>
<rect x="550" y="644" width="3" height="40" fill="#00ff00"/>
<rect x="558" y="644" width="3" height="40" fill="#00ff00"/>
<rect x="566" y="645" width="3" height="39" fill="#00ff00"/>
<rect x="574" y="647" width="3" height="37" fill="#00ff00"/>
<rect x="582" y="649" width="3" height="35" fill="#00ff00"/>
<rect x="590" y="650" width="3" height="34" fill="#00ff00"/>
<rect x="598" y="649" width="3" height="35" fill="#00ff00"/>
<rect x="606" y="648" width="3" height="36" fill="#00ff00"/>
<rect x="614" y="650" width="3" height="34" fill="#00ff00"/>
<rect x="622" y="654" width="3" height="30" fill="#00ff00"/>
<rect x="630" y="659" width="3" height="25" fill="#00ff00"/>
<rect x="638" y="663" width="3" height="21" fill="#00ff00"/>
<rect x="646" y="670" width="3" height="14" fill="#00ff00"/>
<rect x="654" y="677" width="3" height="7" fill="#00ff00"/>
<rect x="662" y="684" width="3" height="5" fill="#00ff00"/>
<rect x="670" y="684" width="3" height="15" fill="#00ff00"/>
<rect x="678" y="684" width="3" height="22" fill="#00ff00"/>
<rect x="686" y="684" width="3" height="33" fill="#00ff00"/>
<rect x="694" y="684" width="3" height="43" fill="#00ff00"/>
<rect x="702" y="684" width="3" height="55" fill="#00ff00"/>
<rect x="710" y="684" width="3" height="69" fill="#00ff00"/>
<rect x="718" y="684" width="3" height="79" fill="#00ff00"/>
<rect x="726" y="684" width="3" height="87" fill="#00ff00"/>
<rect x="734" y="684" width="3" height="93" fill="#00ff00"/>
<rect x="742" y="684" width="3" height="96" fill="#00ff00"/>
<rect x="750" y="684" width="3" height="97" fill="#00ff00"/>
<rect x="758" y="684" width="3" height="95" fill="#00ff00"/>
<rect x="766" y="684" width="3" height="96" fill="#00ff00"/>
<rect x="774" y="684" width="3" height="93" fill="#00ff00"/>
<rect x="782" y="684" width="3" height="88" fill="#00ff00"/>
<rect x="790" y="684" width="3" height="86" fill="#00ff00"/>
<rect x="798" y="684" width="3" height="85" fill="#00ff00"/>
<rect x="806" y="684" width="3" height="83" fill="#00ff00"/>
<rect x="814" y="684" width="3" height="78" fill="#00ff00"/>
<rect x="822" y="684" width="3" height="71" fill="#00ff00"/>
<rect x="830" y="684" width="3" height="61" fill="#00ff00"/>
<rect x="838" y="684" width="3" height="56" fill="#00ff00"/>
<rect x="846" y="684" width="3" height="67" fill="#00ff00"/>
<rect x="854" y="684" width="3" height="78" fill="#00ff00"/>
<rect x="862" y="684" width="3" height="86" fill="#00ff00"/>
<rect x="870" y="684" width="3" height="89" fill="#00ff00"/>
<rect x="878" y="684" width="3" height="89" fill="#00ff00"/>
<rect x="886" y="684" width="3" height="86" fill="#00ff00"/>
<rect x="894" y="684" width="3" height="79" fill="#00ff00"/>
<rect x="902" y="684" width="3" height="77" fill="#00ff00"/>
<rect x="910" y="684" width="3" height="71" fill="#00ff00"/>
<rect x="918" y="684" width="3" height="66" fill="#00ff00"/>
<rect x="926" y="684" width="3" height="58" fill="#00ff00"/>
<rect x="934" y="684" width="3" height="62" fill="#00ff00"/>
<rect x="942" y="684" width="3" height="59" fill="#00ff00"/>
<rect x="950" y="684" width="3" height="54" fill="#00ff00"/>
<rect x="958" y="684" width="3" height="49" fill="#00ff00"/>
<rect x="966" y="684" width="3" height="45" fill="#00ff00"/>
<rect x="974" y="684" width="3" height="39" fill="#00ff00"/>
<rect x="982" y="684" width="3" height="31" fill="#00ff00"/>
<rect x="990" y="684" width="3" height="22" fill="#00ff00"/>
<rect x="998" y="684" width="3" height="14" fill="#00ff00"/>
<rect x="1006" y="684" width="3" height="6" fill="#00ff00"/>
<rect x="1014" y="684" width="3" height="1" fill="#00ff00"/>
<rect x="1022" y="681" width="3" height="3" fill="#00ff00"/>
<rect x="1030" y="683" width="3" height="1" fill="#00ff00"/>
<rect x="1038" y="684" width="3" height="1" fill="#00ff00"/>
<rect x="1046" y="683" width="3" height="1" fill="#00ff00"/>
<rect x="1054" y="681" width="3" height="3" fill="#00ff00"/>
<rect x="1062" y="682" width="3" height="2" fill="#00ff00"/>
<rect x="1070" y="684" width="3" height="1" fill="#00ff00"/>
<rect x="1078" y="684" width="3" height="5" fill="#00ff00"/>
<rect x="1086" y="684" width="3" height="4" fill="#00ff00"/>
<rect x="1094" y="684" width="3" height="4" fill="#00ff00"/>
<rect x="1102" y="684" width="3" height="5" fill="#00ff00"/>
<rect x="1110" y="684" width="3" height="5" fill="#00ff00"/>
<rect x="1118" y="684" width="3" height="5" fill="#00ff00"/>
<rect x="1126" y="684" width="3" height="1" fill="#00ff00"/>
<rect x="1134" y="679" width="3" height="5" fill="#00ff00"/>
<rect x="1142" y="670" width="3" height="14" fill="#00ff00"/>
<rect x="1150" y="662" width="3" height="22" fill="#00ff00"/>
<rect x="1158" y="656" width="3" height="28" fill="#00ff00"/>
<rect x="1166" y="653" width="3" height="31" fill="#00ff00"/>
<rect x="1174" y="650" width="3" height="34" fill="#00ff00"/>
<rect x="1182" y="647" width="3" height="37" fill="#00ff00"/>
<rect x="1190" y="646" width="3" height="38" fill="#00ff00"/>
<rect x="1198" y="647" width="3" height="37" fill="#00ff00"/>
<rect x="1206" y="648" width="3" height="36" fill="#00ff00"/>
<rect x="1214" y="649" width="3" height="35" fill="#00ff00"/>
<rect x="1222" y="648" width="3" height="36" fill="#00ff00"/>
<rect x="1230" y="641" width="3" height="43" fill="#00ff00"/>
<rect x="1238" y="639" width="3" height="45" fill="#00ff00"/>
<rect x="1246" y="643" width="3" height="41" fill="#00ff00"/>
<rect x="1254" y="647" width="3" height="37" fill="#00ff00"/>
<rect x="1262" y="650" width="3" height="34" fill="#00ff00"/>
<rect x="1270" y="654" width="3" height="30" fill="#00ff00"/>
<rect x="1278" y="659" width="3" height="25" fill="#00ff00"/>
<rect x="1286" y="660" width="3" height="24" fill="#00ff00"/>
<rect x="1294" y="663" width="3" height="21" fill="#00ff00"/>
<rect x="1302" y="665" width="3" height="19" fill="#00ff00"/>
</g>
<polyline points="-1.0,667.6 7.0,665.0 15.0,662.0 23.0,659.0 31.0,656.6 39.0,656.1 47.0,657.0 55.0,659.4 63.0,661.2 71.0,663.7 79.0,667.0 87.0,670.3 95.0,673.2 103.0,675.6 111.0,677.3 119.0,678.4 127.0,679.4 135.0,679.9 143.0,680.0 151.0,679.4 159.0,678.3 167.0,677.7 175.0,677.0 183.0,675.7 191.0,674.0 199.0,671.7 207.0,669.6 215.0,667.3 223.0,664.9 231.0,662.4 239.0,659.4 247.0,656.5 255.0,653.9 263.0,651.7 271.0,650.1 279.0,649.0 287.0,648.9 295.0,649.5 303.0,650.6 311.0,651.6 319.0,652.6 327.0,653.4 335.0,654.2 343.0,654.6 351.0,655.0 359.0,655.1 367.0,654.8 375.0,654.4 383.0,653.9 391.0,653.2 399.0,652.4 407.0,651.7 415.0,651.1 423.0,650.6 431.0,650.3 439.0,650.4 447.0,650.7 455.0,650.8 463.0,650.9 471.0,650.6 479.0,650.2 487.0,649.5 495.0,648.5 503.0,647.1 511.0,645.6 519.0,644.2 527.0,643.3 535.0,642.8 543.0,642.8 551.0,643.0 559.0,643.4 567.0,643.7 575.0,644.4 583.0,645.3 591.0,645.7 599.0,646.2 607.0,646.6 615.0,647.2 623.0,648.2 631.0,649.9 639.0,652.0 647.0,654.6 655.0,657.7 663.0,662.1 671.0,667.6 679.0,674.1 687.0,681.5 695.0,689.7 703.0,698.5 711.0,708.5 719.0,718.9 727.0,729.3 735.0,739.0 743.0,748.0 751.0,756.3 759.0,763.3 767.0,769.2 775.0,773.5 783.0,775.5 791.0,776.3 799.0,776.1 807.0,775.0 815.0,773.0 823.0,770.2 831.0,766.4 839.0,761.9 847.0,759.0 855.0,757.9 863.0,757.9 871.0,758.3 879.0,759.0 887.0,759.9 895.0,760.7 903.0,762.5 911.0,764.2 919.0,764.1 927.0,761.9 935.0,759.2 943.0,755.8 951.0,752.0 959.0,747.9 967.0,744.1 975.0,739.9 983.0,735.5 991.0,730.6 999.0,725.6 1007.0,719.5 1015.0,713.0 1023.0,706.7 1031.0,701.1 1039.0,696.2 1047.0,691.7 1055.0,687.9 1063.0,685.3 1071.0,683.9 1079.0,683.7 1087.0,684.1 1095.0,684.9 1103.0,685.6 1111.0,686.0 1119.0,686.8 1127.0,687.2 1135.0,686.9 1143.0,685.2 1151.0,682.3 1159.0,678.8 1167.0,674.9 1175.0,670.5 1183.0,665.8 1191.0,661.1 1199.0,656.8 1207.0,653.4 1215.0,651.1 1223.0,649.5 1231.0,647.9 1239.0,646.4 1247.0,645.5 1255.0,645.5 1263.0,645.9 1271.0,646.7 1279.0,647.9 1287.0,649.1 1295.0,650.7 1303.0,653.4" fill="none" stroke="#ff0000" stroke-width="2" shape-rendering="crispEdges" stroke-linejoin="round"/>
<g shape-rendering="crispEdges">
<line x1="0" y1="818.5" x2="1650" y2="818.5" stroke="#000" stroke-width="1" stroke-dasharray="3,3"/>
<line x1="0" y1="858.5" x2="1650" y2="858.5" stroke="#000" stroke-width="1" stroke-dasharray="3,3"/>
<line x1="0" y1="906.5" x2="1650" y2="906.5" stroke="#000" stroke-width="1" stroke-dasharray="3,3"/>
</g>
<polyline points="-1.0,843.0 7.0,843.1 15.0,847.6 23.0,854.2 31.0,857.6 39.0,866.7 47.0,865.2 55.0,860.2 63.0,857.9 71.0,856.4 79.0,864.4 87.0,859.2 95.0,854.3 103.0,857.5 111.0,860.6 119.0,858.8 127.0,862.1 135.0,851.3 143.0,848.7 151.0,850.8 159.0,847.3 167.0,860.0 175.0,852.9 183.0,848.1 191.0,846.6 199.0,844.9 207.0,845.3 215.0,838.8 223.0,838.0 231.0,836.9 239.0,838.9 247.0,839.1 255.0,839.4 263.0,838.3 271.0,847.9 279.0,848.7 287.0,853.4 295.0,851.5 303.0,846.5 311.0,838.7 319.0,838.3 327.0,837.4 335.0,835.1 343.0,840.7 351.0,847.8 359.0,844.3 367.0,838.2 375.0,843.8 383.0,833.5 391.0,831.3 399.0,831.7 407.0,836.0 415.0,841.2 423.0,848.8 431.0,847.5 439.0,848.5 447.0,850.9 455.0,831.8 463.0,829.5 471.0,826.8 479.0,834.0 487.0,833.2 495.0,836.5 503.0,832.9 511.0,837.1 519.0,850.5 527.0,840.1 535.0,837.9 543.0,841.7 551.0,838.8 559.0,838.0 567.0,838.4 575.0,844.2 583.0,844.5 591.0,840.5 599.0,836.5 607.0,833.6 615.0,846.7 623.0,852.3 631.0,861.3 639.0,859.5 647.0,868.6 655.0,874.1 663.0,886.0 671.0,886.5 679.0,886.3 687.0,894.3 695.0,896.3 703.0,901.4 711.0,905.5 719.0,902.3 727.0,903.1 735.0,903.6 743.0,903.7 751.0,899.2 759.0,897.2 767.0,900.1 775.0,891.8 783.0,881.9 791.0,888.0 799.0,890.3 807.0,885.2 815.0,879.3 823.0,873.2 831.0,860.7 839.0,868.8 847.0,889.4 855.0,891.2 863.0,891.6 871.0,887.5 879.0,881.4 887.0,878.3 895.0,870.9 903.0,876.3 911.0,869.0 919.0,870.5 927.0,863.2 935.0,876.8 943.0,868.1 951.0,866.3 959.0,864.0 967.0,864.5 975.0,861.9 983.0,855.1 991.0,852.3 999.0,850.2 1007.0,849.4 1015.0,848.8 1023.0,852.6 1031.0,861.0 1039.0,863.9 1047.0,854.4 1055.0,855.2 1063.0,860.2 1071.0,864.9 1079.0,866.3 1087.0,858.4 1095.0,860.8 1103.0,862.9 1111.0,860.7 1119.0,860.9 1127.0,851.7 1135.0,845.5 1143.0,838.4 1151.0,837.2 1159.0,836.1 1167.0,841.3 1175.0,839.6 1183.0,837.9 1191.0,841.9 1199.0,844.3 1207.0,845.9 1215.0,844.8 1223.0,839.4 1231.0,828.2 1239.0,838.6 1247.0,850.5 1255.0,852.8 1263.0,852.7 1271.0,855.7 1279.0,858.4 1287.0,852.0 1295.0,855.6 1303.0,855.6" fill="none" stroke="#1e90ff" stroke-width="2" shape-rendering="crispEdges" stroke-linejoin="round"/>
<g shape-rendering="crispEdges">
<rect x="1651" y="32" width="2" height="1" fill="#000"/>
<rect x="1651" y="65" width="2" height="1" fill="#000"/>
<rect x="1651" y="98" width="2" height="1" fill="#000"/>
<rect x="1651" y="131" width="2" height="1" fill="#000"/>
<rect x="1651" y="164" width="2" height="1" fill="#000"/>
<rect x="1651" y="197" width="2" height="1" fill="#000"/>
<rect x="1651" y="230" width="2" height="1" fill="#000"/>
<rect x="1651" y="263" width="2" height="1" fill="#000"/>
<rect x="1651" y="296" width="2" height="1" fill="#000"/>
<rect x="1651" y="329" width="2" height="1" fill="#000"/>
<rect x="1651" y="362" width="2" height="1" fill="#000"/>
<rect x="1651" y="395" width="2" height="1" fill="#000"/>
<rect x="1651" y="428" width="2" height="1" fill="#000"/>
<rect x="1651" y="461" width="2" height="1" fill="#000"/>
<rect x="1651" y="494" width="2" height="1" fill="#000"/>
<rect x="1651" y="527" width="2" height="1" fill="#000"/>
<rect x="1651" y="560" width="2" height="1" fill="#000"/>
<rect x="1651" y="593" width="2" height="1" fill="#000"/>
<rect x="1651" y="626" width="2" height="1" fill="#000"/>
</g>
<text transform="translate(1656 36) scale(0.915 1)" class="ax" >28460.0</text>
<text transform="translate(1656 69) scale(0.915 1)" class="ax" >28290.0</text>
<text transform="translate(1656 102) scale(0.915 1)" class="ax" >28115.0</text>
<text transform="translate(1656 135) scale(0.915 1)" class="ax" >27945.0</text>
<text transform="translate(1656 168) scale(0.915 1)" class="ax" >27775.0</text>
<text transform="translate(1656 201) scale(0.915 1)" class="ax" >27605.0</text>
<text transform="translate(1656 234) scale(0.915 1)" class="ax" >27435.0</text>
<text transform="translate(1656 267) scale(0.915 1)" class="ax" >27265.0</text>
<text transform="translate(1656 300) scale(0.915 1)" class="ax" >27095.0</text>
<text transform="translate(1656 333) scale(0.915 1)" class="ax" >26925.0</text>
<text transform="translate(1656 366) scale(0.915 1)" class="ax" >26755.0</text>
<text transform="translate(1656 432) scale(0.915 1)" class="ax" >26410.0</text>
<text transform="translate(1656 465) scale(0.915 1)" class="ax" >26240.0</text>
<text transform="translate(1656 498) scale(0.915 1)" class="ax" >26070.0</text>
<text transform="translate(1656 531) scale(0.915 1)" class="ax" >25900.0</text>
<text transform="translate(1656 564) scale(0.915 1)" class="ax" >25730.0</text>
<text transform="translate(1656 597) scale(0.915 1)" class="ax" >25560.0</text>
<text transform="translate(1656 630) scale(0.915 1)" class="ax" >25390.0</text>
<rect x="1652" y="270" width="41" height="11" fill="#ff0000" shape-rendering="crispEdges"/>
<text transform="translate(1656 279) scale(0.915 1)" class="axw" >27196.9</text>
<rect x="1652" y="301" width="41" height="11" fill="#ff0000" shape-rendering="crispEdges"/>
<text transform="translate(1656 310) scale(0.915 1)" class="axw" >27036.9</text>
<rect x="1652" y="339" width="41" height="11" fill="#ffa500" shape-rendering="crispEdges"/>
<text transform="translate(1656 348) scale(0.915 1)" class="axw" >26840.8</text>
<rect x="1652" y="364" width="41" height="11" fill="#000000" shape-rendering="crispEdges"/>
<text transform="translate(1656 373) scale(0.915 1)" class="axw" >26715.0</text>
<rect x="1652" y="392" width="41" height="11" fill="#0000ff" shape-rendering="crispEdges"/>
<text transform="translate(1656 401) scale(0.915 1)" class="axw" >26567.2</text>
<rect x="1652" y="420" width="41" height="11" fill="#0000ff" shape-rendering="crispEdges"/>
<text transform="translate(1656 429) scale(0.915 1)" class="axw" >26422.7</text>
<g shape-rendering="crispEdges">
<rect x="1651" y="633" width="1" height="1" fill="#000"/>
<rect x="1651" y="684" width="2" height="1" fill="#000"/>
<rect x="1651" y="791" width="1" height="1" fill="#000"/>
<rect x="1651" y="818" width="2" height="1" fill="#000"/>
<rect x="1651" y="858" width="2" height="1" fill="#000"/>
<rect x="1651" y="906" width="2" height="1" fill="#000"/>
</g>
<text transform="translate(1654 642) scale(0.915 1)" class="ax" >220.84</text>
<text transform="translate(1654 688) scale(0.915 1)" class="ax" >0.00</text>
<text transform="translate(1654 784) scale(0.915 1)" class="ax" >-442.98</text>
<text transform="translate(1654 800) scale(0.915 1)" class="ax" >100</text>
<text transform="translate(1653 822) scale(0.915 1)" class="ax" >80</text>
<text transform="translate(1653 862) scale(0.915 1)" class="ax" >50</text>
<text transform="translate(1653 910) scale(0.915 1)" class="ax" >15</text>
<text transform="translate(1654 924) scale(0.915 1)" class="ax" >0</text>
<g shape-rendering="crispEdges">
<rect x="55" y="927" width="1" height="4" fill="#000"/>
<rect x="119" y="927" width="1" height="4" fill="#000"/>
<rect x="183" y="927" width="1" height="4" fill="#000"/>
<rect x="247" y="927" width="1" height="4" fill="#000"/>
<rect x="311" y="927" width="1" height="4" fill="#000"/>
<rect x="375" y="927" width="1" height="4" fill="#000"/>
<rect x="439" y="927" width="1" height="4" fill="#000"/>
<rect x="503" y="927" width="1" height="4" fill="#000"/>
<rect x="567" y="927" width="1" height="4" fill="#000"/>
<rect x="631" y="927" width="1" height="4" fill="#000"/>
<rect x="695" y="927" width="1" height="4" fill="#000"/>
<rect x="759" y="927" width="1" height="4" fill="#000"/>
<rect x="823" y="927" width="1" height="4" fill="#000"/>
<rect x="887" y="927" width="1" height="4" fill="#000"/>
<rect x="951" y="927" width="1" height="4" fill="#000"/>
<rect x="1015" y="927" width="1" height="4" fill="#000"/>
<rect x="1079" y="927" width="1" height="4" fill="#000"/>
<rect x="1143" y="927" width="1" height="4" fill="#000"/>
<rect x="1207" y="927" width="1" height="4" fill="#000"/>
<rect x="1271" y="927" width="1" height="4" fill="#000"/>
</g>
<text transform="translate(-10 940) scale(0.93 1)" class="tl" >23 May 2022</text>
<text transform="translate(54 940) scale(0.93 1)" class="tl" >24 May 18:55</text>
<text transform="translate(118 940) scale(0.93 1)" class="tl" >26 May 00:00</text>
<text transform="translate(182 940) scale(0.93 1)" class="tl" >27 May 10:55</text>
<text transform="translate(246 940) scale(0.93 1)" class="tl" >30 May 18:55</text>
<text transform="translate(310 940) scale(0.93 1)" class="tl" >1 Jun 00:00</text>
<text transform="translate(374 940) scale(0.93 1)" class="tl" >2 Jun 10:55</text>
<text transform="translate(438 940) scale(0.93 1)" class="tl" >3 Jun 18:55</text>
<text transform="translate(502 940) scale(0.93 1)" class="tl" >7 Jun 00:00</text>
<text transform="translate(566 940) scale(0.93 1)" class="tl" >8 Jun 10:55</text>
<text transform="translate(630 940) scale(0.93 1)" class="tl" >9 Jun 18:55</text>
<text transform="translate(694 940) scale(0.93 1)" class="tl" >13 Jun 00:00</text>
<text transform="translate(758 940) scale(0.93 1)" class="tl" >14 Jun 10:55</text>
<text transform="translate(822 940) scale(0.93 1)" class="tl" >15 Jun 18:55</text>
<text transform="translate(886 940) scale(0.93 1)" class="tl" >17 Jun 00:00</text>
<text transform="translate(950 940) scale(0.93 1)" class="tl" >20 Jun 10:55</text>
<text transform="translate(1014 940) scale(0.93 1)" class="tl" >21 Jun 18:55</text>
<text transform="translate(1078 940) scale(0.93 1)" class="tl" >23 Jun 00:00</text>
<text transform="translate(1142 940) scale(0.93 1)" class="tl" >24 Jun 10:55</text>
<text transform="translate(1206 940) scale(0.93 1)" class="tl" >27 Jun 18:55</text>
<text transform="translate(1270 940) scale(0.93 1)" class="tl" >29 Jun 00:00</text>
<text transform="translate(6 38) scale(0.925 1)" class="tl" >JPN225-,H4  26715.0 26765.0 26685.0 26715.0</text>
<text transform="translate(-3 644) scale(0.925 1)" class="tl" >MACD(12,26,9) 81.01 131.25</text>
<text transform="translate(-5 802) scale(0.925 1)" class="tl" >RSI(14) 52.2518</text>
<g shape-rendering="crispEdges">
<rect x="1312" y="27" width="9" height="1" fill="#000"/>
<rect x="1313" y="28" width="7" height="1" fill="#000"/>
<rect x="1314" y="29" width="5" height="1" fill="#000"/>
<rect x="1315" y="30" width="3" height="1" fill="#000"/>
<rect x="1316" y="31" width="1" height="1" fill="#000"/>
<rect x="0" y="33" width="1" height="1" fill="#000"/>
</g>
<g id="toolbar">
<g shape-rendering="crispEdges">
<rect x="287" y="0" width="23" height="20" fill="#f9f9f9"/>
<rect x="438" y="0" width="24" height="20" fill="#f9f9f9"/>
<rect x="466" y="0" width="24" height="20" fill="#f9f9f9"/>
<rect x="626" y="0" width="24" height="20" fill="#f9f9f9"/>
<rect x="1072" y="0" width="24" height="20" fill="#f9f9f9"/>
<rect x="247" y="0" width="1" height="20" fill="#a0a0a0"/>
<rect x="285" y="0" width="1" height="20" fill="#a0a0a0"/>
<rect x="342" y="0" width="1" height="20" fill="#a0a0a0"/>
<rect x="432" y="0" width="1" height="20" fill="#a0a0a0"/>
<rect x="437" y="0" width="1" height="20" fill="#a0a0a0"/>
<rect x="465" y="0" width="1" height="20" fill="#a0a0a0"/>
<rect x="494" y="0" width="1" height="20" fill="#a0a0a0"/>
<rect x="615" y="0" width="1" height="20" fill="#a0a0a0"/>
<rect x="625" y="0" width="1" height="20" fill="#a0a0a0"/>
<rect x="682" y="0" width="1" height="20" fill="#a0a0a0"/>
<rect x="921" y="0" width="1" height="20" fill="#a0a0a0"/>
<rect x="1071" y="0" width="1" height="20" fill="#a0a0a0"/>
<rect x="1182" y="0" width="1" height="20" fill="#a0a0a0"/>
<rect x="248" y="0" width="1" height="21" fill="#fff"/>
<rect x="616" y="0" width="1" height="21" fill="#fff"/>
<rect x="922" y="0" width="1" height="21" fill="#fff"/>
<rect x="7" y="0" width="1" height="20" fill="#c8c8c8"/><rect x="0" y="20" width="8" height="1" fill="#c8c8c8"/><rect x="11" y="0" width="1" height="20" fill="#a0a0a0"/>
<rect x="251" y="0" width="3" height="1" fill="#b4b4b4"/>
<rect x="251" y="2" width="3" height="1" fill="#b4b4b4"/>
<rect x="251" y="4" width="3" height="1" fill="#b4b4b4"/>
<rect x="251" y="6" width="3" height="1" fill="#b4b4b4"/>
<rect x="251" y="8" width="3" height="1" fill="#b4b4b4"/>
<rect x="251" y="10" width="3" height="1" fill="#b4b4b4"/>
<rect x="251" y="12" width="3" height="1" fill="#b4b4b4"/>
<rect x="251" y="14" width="3" height="1" fill="#b4b4b4"/>
<rect x="251" y="16" width="3" height="1" fill="#b4b4b4"/>
<rect x="251" y="18" width="3" height="1" fill="#b4b4b4"/>
<rect x="619" y="0" width="3" height="1" fill="#b4b4b4"/>
<rect x="619" y="2" width="3" height="1" fill="#b4b4b4"/>
<rect x="619" y="4" width="3" height="1" fill="#b4b4b4"/>
<rect x="619" y="6" width="3" height="1" fill="#b4b4b4"/>
<rect x="619" y="8" width="3" height="1" fill="#b4b4b4"/>
<rect x="619" y="10" width="3" height="1" fill="#b4b4b4"/>
<rect x="619" y="12" width="3" height="1" fill="#b4b4b4"/>
<rect x="619" y="14" width="3" height="1" fill="#b4b4b4"/>
<rect x="619" y="16" width="3" height="1" fill="#b4b4b4"/>
<rect x="619" y="18" width="3" height="1" fill="#b4b4b4"/>
<rect x="925" y="0" width="3" height="1" fill="#b4b4b4"/>
<rect x="925" y="2" width="3" height="1" fill="#b4b4b4"/>
<rect x="925" y="4" width="3" height="1" fill="#b4b4b4"/>
<rect x="925" y="6" width="3" height="1" fill="#b4b4b4"/>
<rect x="925" y="8" width="3" height="1" fill="#b4b4b4"/>
<rect x="925" y="10" width="3" height="1" fill="#b4b4b4"/>
<rect x="925" y="12" width="3" height="1" fill="#b4b4b4"/>
<rect x="925" y="14" width="3" height="1" fill="#b4b4b4"/>
<rect x="925" y="16" width="3" height="1" fill="#b4b4b4"/>
<rect x="925" y="18" width="3" height="1" fill="#b4b4b4"/>
</g>
<polygon points="0,14 3,17 1,19 0,19" fill="#e0a020"/>
<path d="M22.0 3.5h7l3 3v9h-10z" fill="#fdfdfd" stroke="#7c7c7c" stroke-width="1"/>
<path d="M24.0 6.5h3M24.0 9.5h5M24.0 11.5h3" stroke="#9a9a9a" stroke-width="1"/>
<path d="M29.2 8.4h3.6v3.6h3.6v3.6h-3.6v3.6h-3.6v-3.6h-3.6v-3.6h3.6z" fill="#30d830" stroke="#0a8a0a" stroke-width="0.9"/>
<path d="M30.1 9.200000000000001v3.7h-3.7" stroke="#9af59a" stroke-width="0.8" fill="none"/>
<text x="40" y="13.8" class="cj">新订单</text>
<defs><linearGradient id="gg" x1="0" y1="0" x2="1" y2="1"><stop offset="0" stop-color="#d9a21c"/><stop offset=".45" stop-color="#f9dc55"/><stop offset="1" stop-color="#c98f14"/></linearGradient></defs>
<path d="M93.2 3.200l10.5 7.300l-7.2 7.300l-8.4-5.600q3.5-3.5 3.6-8.200z" fill="url(#gg)" stroke="#a8700c" stroke-width="0.9"/>
<path d="M88.3 12.600l8.2 5.600l7.2-7.4" fill="none" stroke="#8a5a06" stroke-width="1.6"/>
<path d="M89.5 12.600l7 4.700l6.3-6.4" fill="none" stroke="#fff3c4" stroke-width="0.6"/>
<path d="M118.5 4l4-1.600l6.3 1.400v6.500h-10.300z" fill="#2b8cf0" stroke="#1c62c0" stroke-width="0.8"/>
<path d="M123 4.800l5.3 .6v4.900h-5.300z" fill="#7fc0ff"/>
<path d="M124 6.300l3.6-.500M124 8.200h3.6" stroke="#fff" stroke-width="0.9"/>
<path d="M118.2 17.500a2.9 2.9 0 0 1 .6-5.500a4 4 0 0 1 7.2-1.200a3.2 3.2 0 0 1 5.2 3a2 2 0 0 1-.5 3.700z" fill="#eef3fb" stroke="#6b8ac4" stroke-width="1"/>
<path d="M152.1 10v8a8 8 0 0 0 7.8-6.500z" fill="#a9d6a9" fill-opacity=".8"/>
<circle cx="152.1" cy="10" r="7.3" fill="none" stroke="#a9bddd" stroke-width="1.2"/>
<circle cx="152.1" cy="10" r="4.3" fill="none" stroke="#6b90cf" stroke-width="1.3"/>
<circle cx="152.1" cy="9.8" r="1.8" fill="#2456c4"/>
<path d="M152.3 10.500v7.400q3.8-.2 6-3" fill="none" stroke="#2fa32f" stroke-width="1.7"/>
<path d="M172 8.700h14.300l-6.3 8.800h-2.600z" fill="#f6d43c" stroke="#c79a1c" stroke-width="0.8"/>
<ellipse cx="179" cy="6.3" rx="7.8" ry="2.4" fill="#4d9bd8" stroke="#2f78b8" stroke-width="0.7"/>
<path d="M175.3 6.300q.3-4.3 3.7-4.300t3.7 4.300q-3.7 1.2-7.4 0z" fill="#6db3e8" stroke="#2f78b8" stroke-width="0.6"/>
<circle cx="183.5" cy="13.5" r="4.1" fill="#e0301c"/>
<rect x="182" y="12" width="3.1" height="3.1" fill="#fff"/>
<text x="192.5" y="13.8" class="cj">自动交易</text>
<path d="M265.5 4.5v13.2M263 15.5h13.8" stroke="#5a5a5a" stroke-width="1.1" fill="none"/>
<path d="M264.1 6.3l1.4-2.100l1.4 2.100M274.9 14.100l2.1 1.400l-2.1 1.4" stroke="#5a5a5a" stroke-width="1" fill="none"/>
<path d="M271.5 5.5v8M271.5 6h2.3M271.5 12.5h-2.3" stroke="#1b9a1b" stroke-width="1.5" fill="none"/>
<path d="M293.5 4.5v13.2M291 15.5h13.8" stroke="#5a5a5a" stroke-width="1.1" fill="none"/>
<path d="M292.1 6.3l1.4-2.100l1.4 2.100M302.9 14.100l2.1 1.400l-2.1 1.4" stroke="#5a5a5a" stroke-width="1" fill="none"/>
<path d="M299.5 2.5v11.5" stroke="#128a12" stroke-width="1.2"/><rect x="297.5" y="4.5" width="4.2" height="7.5" fill="#35d435" stroke="#128a12" stroke-width="0.9"/>
<path d="M321.5 4.5v13.2M319 15.5h13.8" stroke="#5a5a5a" stroke-width="1.1" fill="none"/>
<path d="M320.1 6.3l1.4-2.100l1.4 2.100M330.9 14.100l2.1 1.400l-2.1 1.4" stroke="#5a5a5a" stroke-width="1" fill="none"/>
<path d="M320 12.6q3-3.4 5-5q1.5-1 3 .5q2 2.5 4 3.3" stroke="#2d9e2d" stroke-width="1.3" fill="none"/>
<path d="M361.2 11.8l4.9 4.5" stroke="#a8821a" stroke-width="3.3"/>
<path d="M361.2 11.8l4.7 4.3" stroke="#f2d858" stroke-width="1.7"/>
<circle cx="357" cy="7.7" r="5.4" fill="#cdebfd" stroke="#3f7fcb" stroke-width="1.3"/>
<path d="M353.8 7.7h6.4" stroke="#3a86b8" stroke-width="2"/>
<path d="M357 4.5v6.4" stroke="#3a86b8" stroke-width="2"/>
<path d="M389.2 11.8l4.9 4.5" stroke="#a8821a" stroke-width="3.3"/>
<path d="M389.2 11.8l4.7 4.3" stroke="#f2d858" stroke-width="1.7"/>
<circle cx="385" cy="7.7" r="5.4" fill="#cdebfd" stroke="#3f7fcb" stroke-width="1.3"/>
<path d="M381.8 7.7h6.4" stroke="#3a86b8" stroke-width="2"/>
<rect x="407" y="2" width="8" height="8" fill="#3da02c" stroke="#2a8a1c" stroke-width="0.6"/>
<path d="M408 9.3v-4.300h6v4.300h-1.200v-1h-3.600v1z" fill="#fff" fill-opacity="0.95"/>
<rect x="409" y="6.2" width="4" height="1" fill="#3da02c" fill-opacity=".45"/>
<rect x="408" y="3" width="1" height="1" fill="#fff" fill-opacity=".8"/>
<rect x="415" y="2" width="8" height="8" fill="#3c6fe0" stroke="#1f4fc4" stroke-width="0.6"/>
<path d="M416 9.3v-4.300h6v4.300h-1.200v-1h-3.600v1z" fill="#fff" fill-opacity="0.95"/>
<rect x="417" y="6.2" width="4" height="1" fill="#3c6fe0" fill-opacity=".45"/>
<rect x="416" y="3" width="1" height="1" fill="#fff" fill-opacity=".8"/>
<rect x="407" y="10" width="8" height="8" fill="#3c6fe0" stroke="#1f4fc4" stroke-width="0.6"/>
<path d="M408 17.3v-4.300h6v4.300h-1.200v-1h-3.600v1z" fill="#fff" fill-opacity="0.95"/>
<rect x="409" y="14.2" width="4" height="1" fill="#3c6fe0" fill-opacity=".45"/>
<rect x="408" y="11" width="1" height="1" fill="#fff" fill-opacity=".8"/>
<rect x="415" y="10" width="8" height="8" fill="#3da02c" stroke="#2a8a1c" stroke-width="0.6"/>
<path d="M416 17.3v-4.300h6v4.300h-1.200v-1h-3.600v1z" fill="#fff" fill-opacity="0.95"/>
<rect x="417" y="14.2" width="4" height="1" fill="#3da02c" fill-opacity=".45"/>
<rect x="416" y="11" width="1" height="1" fill="#fff" fill-opacity=".8"/>
<path d="M445.5 4.5v13.2M443 15.5h13.8" stroke="#5a5a5a" stroke-width="1.1" fill="none"/>
<path d="M444.1 6.3l1.4-2.100l1.4 2.100M454.9 14.100l2.1 1.400l-2.1 1.4" stroke="#5a5a5a" stroke-width="1" fill="none"/>
<path d="M450.3 6.4v6.4l4.2-3.2z" fill="#35d435" stroke="#159a15" stroke-width="0.9"/>
<path d="M473.5 4.5v13.2M471 15.5h13.8" stroke="#5a5a5a" stroke-width="1.1" fill="none"/>
<path d="M472.1 6.3l1.4-2.100l1.4 2.100M482.9 14.100l2.1 1.400l-2.1 1.4" stroke="#5a5a5a" stroke-width="1" fill="none"/>
<path d="M479.6 4.2v9.6" stroke="#2a6ea8" stroke-width="1.3"/>
<path d="M485.2 9.6h-4.5M483 7.4l-2.4 2.2l2.4 2.2" stroke="#d8481c" stroke-width="1.3" fill="none"/>
<path d="M505.0 3.5h7l3 3v9h-10z" fill="#fdfdfd" stroke="#7c7c7c" stroke-width="1"/>
<path d="M507.0 6.5h3M507.0 9.5h5M507.0 11.5h3" stroke="#9a9a9a" stroke-width="1"/>
<path d="M512.2 8.4h3.6v3.6h3.6v3.6h-3.6v3.6h-3.6v-3.6h-3.6v-3.6h3.6z" fill="#30d830" stroke="#0a8a0a" stroke-width="0.9"/>
<path d="M513.1 9.200000000000001v3.7h-3.7" stroke="#9af59a" stroke-width="0.8" fill="none"/>
<polygon points="525.5,9 531.5,9 528.5,12" fill="#000"/>
<circle cx="550" cy="10" r="6.9" fill="#f6f8fb" stroke="#2f7fd6" stroke-width="2.5"/>
<path d="M550 5v1M550 14v1M545 10h1M554 10h1" stroke="#8a8f98" stroke-width="0.9"/>
<circle cx="550" cy="10" r="8.3" fill="none" stroke="#1c5aa8" stroke-width="0.6"/>
<path d="M550 5.8v4.4h3" stroke="#333" stroke-width="1.1" fill="none"/>
<polygon points="564.5,9 570.5,9 567.5,12" fill="#000"/>
<rect x="581.5" y="3.5" width="15" height="13" fill="#fff" stroke="#3a78c4" stroke-width="1"/>
<rect x="582" y="4" width="14" height="2" fill="#5a96dc"/>
<path d="M582 10.5h14" stroke="#3a78c4" stroke-width="1"/>
<path d="M583.5 9l2-.3l1.5-1l2-.8l1.5 .8l2-.3l1.5-.8" stroke="#b02010" stroke-width="1.2" fill="none"/>
<path d="M583.5 14.200l2-.200l1.5-1l2 .800l2-1.600l2 1.8" stroke="#1e9a3a" stroke-width="1.2" fill="none"/>
<polygon points="603.5,9 609.5,9 606.5,12" fill="#000"/>
<path d="M633 3v11.200l2.7-2.400l2.3 4.900l1.8-.9l-2.3-4.700l3.6-.4z" fill="#4e4e4e"/>
<g shape-rendering="crispEdges"><rect x="665" y="3" width="1" height="6" fill="#555"/><rect x="665" y="12" width="1" height="6" fill="#555"/><rect x="658" y="10" width="6" height="1" fill="#555"/><rect x="667" y="10" width="6" height="1" fill="#555"/>
<rect x="699" y="4" width="1" height="13" fill="#555"/><rect x="722" y="10" width="12" height="1" fill="#555"/></g>
<path d="M750 16.800l11.8-11.8" stroke="#555" stroke-width="1.1"/>
<path d="M776 14l10-11M778.5 16l10-11M781 18l8-9" stroke="#555" stroke-width="0.9"/>
<path d="M777 11l8 1.500M780 7.500l8 1.500M783 4l6 1" stroke="#555" stroke-width="0.8"/>
<text x="787" y="18.5" style="font-size:6.500px;font-weight:bold;fill:#444">E</text>
<path d="M805 3.5h13" stroke="#555" stroke-width="1" stroke-dasharray="1,1" shape-rendering="crispEdges"/>
<path d="M805 6.5h13" stroke="#555" stroke-width="1" stroke-dasharray="1,1" shape-rendering="crispEdges"/>
<path d="M805 10.5h13" stroke="#555" stroke-width="1" stroke-dasharray="1,1" shape-rendering="crispEdges"/>
<path d="M805 14.5h9" stroke="#555" stroke-width="1" stroke-dasharray="1,1" shape-rendering="crispEdges"/>
<text x="815" y="18.5" style="font-size:6.500px;font-weight:bold;fill:#444">F</text>
<text x="835" y="14.8" style="font-size:12px;fill:#555;stroke:#555;stroke-width:.35px">A</text>
<rect x="862.5" y="4.5" width="11" height="12" fill="none" stroke="#555" stroke-width="1" stroke-dasharray="1,1" shape-rendering="crispEdges"/>
<text x="864.3" y="14.6" style="font-size:10.500px;fill:#555;stroke:#555;stroke-width:.5px">T</text>
<path d="M893 3.200l3.8 3.800l-3.8 2.200l-3.8-2.200zM899.5 16.200l-3.8-3.800l3.8-2.200l3.8 2.200z" fill="#4a4a4a"/>
<path d="M892 10.200l2.2 2.300l4.3-5" stroke="#4a4a4a" stroke-width="1.5" fill="none"/>
<polygon points="909.5,9 915.5,9 912.5,12" fill="#000"/>
<text transform="translate(936.5 14) scale(.93 1)" class="tf">M1</text>
<text transform="translate(965 14) scale(.93 1)" class="tf">M5</text>
<text transform="translate(990.5 14) scale(.93 1)" class="tf">M15</text>
<text transform="translate(1018.5 14) scale(.93 1)" class="tf">M30</text>
<text transform="translate(1049.5 14) scale(.93 1)" class="tf">H1</text>
<text transform="translate(1076.5 14) scale(.93 1)" class="tf">H4</text>
<text transform="translate(1105.5 14) scale(.93 1)" class="tf">D1</text>
<text transform="translate(1133 14) scale(.93 1)" class="tf">W1</text>
<text transform="translate(1159.5 14) scale(.93 1)" class="tf">MN</text>
<path d="M1650.5 9.500l-5.5 5" stroke="#2a5fc8" stroke-width="2.6" stroke-linecap="round"/>
<circle cx="1652.5" cy="7" r="3.6" fill="#fff" stroke="#2a5fc8" stroke-width="1.3"/>
<path d="M1669.5 12a5.5 4 0 1 1 5 4l-3 2.800l.3-3a5 4 0 0 1-2.3-3.800z" fill="#e8eaf2" stroke="#b4b8c4" stroke-width="0.8"/>
<circle cx="1683.6" cy="7.5" r="8.3" fill="#dc3a1e"/>
<text x="1680.3" y="12" style="font-size:12.500px;font-weight:bold;fill:#fff">1</text>
</g>
</svg></body></html>
